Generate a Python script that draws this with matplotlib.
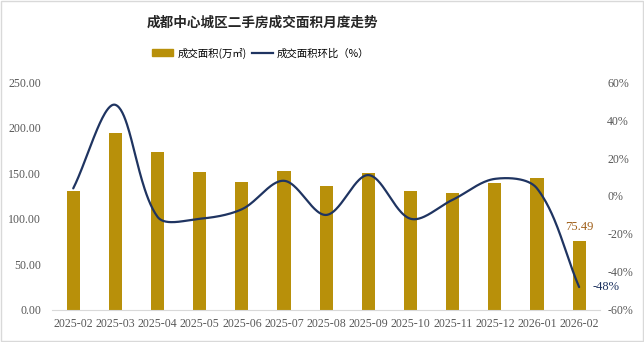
import numpy as np
import matplotlib
matplotlib.use("Agg")
import matplotlib.pyplot as plt
from matplotlib.patches import Rectangle
from matplotlib.lines import Line2D
from matplotlib.ticker import FuncFormatter

plt.rcParams['font.family'] = ['Liberation Serif', 'Noto Sans CJK SC', 'DejaVu Sans']

months = ["2025-02", "2025-03", "2025-04", "2025-05", "2025-06", "2025-07", "2025-08",
          "2025-09", "2025-10", "2025-11", "2025-12", "2026-01", "2026-02"]
area = [130.8, 194.0, 173.0, 151.0, 140.7, 152.4, 136.0, 150.6, 130.8, 128.3, 139.6, 144.7, 75.49]
mom = [4, 48, -11, -12, -7, 8, -10, 11, -12, -2, 9, 4, -48]

title = "成都中心城区二手房成交面积月度走势"
bar_label = "成交面积(万㎡)"
line_label = "成交面积环比（%）"

BAR_COLOR = "#B8900A"
LINE_COLOR = "#1F3461"
TICK_COLOR = "#595959"


def smooth_curve(xs, ys, sx=1.0, sy=1.0, steps=50):
    """Bezier smoothing; control arms scaled by neighbouring segment lengths
    (measured in display units sx, sy) to keep overshoot small."""
    P = np.column_stack([np.asarray(xs, float) * sx, np.asarray(ys, float) * sy])
    n = len(P)
    out = []
    for i in range(n - 1):
        i0 = max(i - 1, 0)
        i3 = min(i + 2, n - 1)
        p0, p3 = P[i], P[i + 1]
        d01 = np.linalg.norm(P[i] - P[i0])
        d12 = np.linalg.norm(P[i + 1] - P[i])
        d23 = np.linalg.norm(P[i3] - P[i + 1])
        t1 = P[i + 1] - P[i0]
        t2 = P[i3] - P[i]
        f1 = d12 / (d01 + d12) if (d01 + d12) > 0 else 0.5
        f2 = d12 / (d12 + d23) if (d12 + d23) > 0 else 0.5
        c1 = p0 + t1 * f1 / 3
        c2 = p3 - t2 * f2 / 3
        t = np.linspace(0, 1, steps)[:, None]
        pts = ((1 - t) ** 3) * p0 + 3 * ((1 - t) ** 2) * t * c1 + 3 * (1 - t) * t ** 2 * c2 + t ** 3 * p3
        out.append(pts)
    pts = np.vstack(out)
    return pts[:, 0] / sx, pts[:, 1] / sy


fig = plt.figure(figsize=(6.44, 3.42), dpi=100)
fig.patch.set_facecolor("white")
fig.patches.append(Rectangle((0.0015, 0.003), 0.997, 0.994, transform=fig.transFigure,
                             fill=False, edgecolor="#D9D9D9", linewidth=1.0))

ax = fig.add_axes([0.081, 0.094, 0.851, 0.666])
x = np.arange(len(months))
ax.bar(x, area, width=0.31, color=BAR_COLOR, zorder=2)
ax.set_xlim(-0.5, len(months) - 0.5)
ax.set_ylim(0, 250)
ax.set_yticks(np.arange(0, 251, 50))
ax.yaxis.set_major_formatter(FuncFormatter(lambda v, p: f"{v:.2f}"))
ax.set_xticks(x)
ax.set_xticklabels(months)
for s in ["top", "right", "left"]:
    ax.spines[s].set_visible(False)
ax.spines["bottom"].set_color("#D9D9D9")
ax.tick_params(axis="both", length=0, labelsize=8.6, colors=TICK_COLOR)
ax.tick_params(axis="x", pad=6)
ax.tick_params(axis="y", pad=8)

ax2 = ax.twinx()
# display scale: ~42 px per category, ~1.9 px per percentage point
cx, cy = smooth_curve(x, mom, sx=42.2, sy=1.9)
ax2.plot(cx, cy, color=LINE_COLOR, linewidth=1.6, zorder=3, solid_capstyle="round")
ax2.set_ylim(-60, 60)
ax2.set_yticks(np.arange(-60, 61, 20))
ax2.yaxis.set_major_formatter(FuncFormatter(lambda v, p: f"{v:.0f}%"))
for s in ["top", "right", "left", "bottom"]:
    ax2.spines[s].set_visible(False)
ax2.tick_params(axis="y", length=0, labelsize=8.6, colors=TICK_COLOR, pad=5)

# Value labels for the latest month
ax.annotate(f"{area[-1]:.2f}", (x[-1], area[-1]), xytext=(0, 6), textcoords="offset points",
            ha="center", va="bottom", fontsize=9, color="#A0601A")
ax2.annotate(f"{mom[-1]}%", (x[-1], mom[-1]), xytext=(10, 0), textcoords="offset points",
             ha="left", va="center", fontsize=9, color=LINE_COLOR)

fig.text(0.407, 0.935, title, ha="center", va="center", fontsize=9.8, fontweight="bold",
         color="#262626", family=["Noto Sans CJK SC"])

handles = [Rectangle((0, 0), 1, 1, color=BAR_COLOR),
           Line2D([0], [0], color=LINE_COLOR, linewidth=1.6)]
fig.legend(handles, [bar_label, line_label], loc="center", bbox_to_anchor=(0.405, 0.845),
           ncol=2, frameon=False, handlelength=2.0, handleheight=0.7,
           columnspacing=0.5, handletextpad=0.4,
           prop={"family": ["Noto Sans CJK SC", "DejaVu Sans"], "size": 7.5})

fig.savefig("out.png", dpi=100, facecolor="white")
